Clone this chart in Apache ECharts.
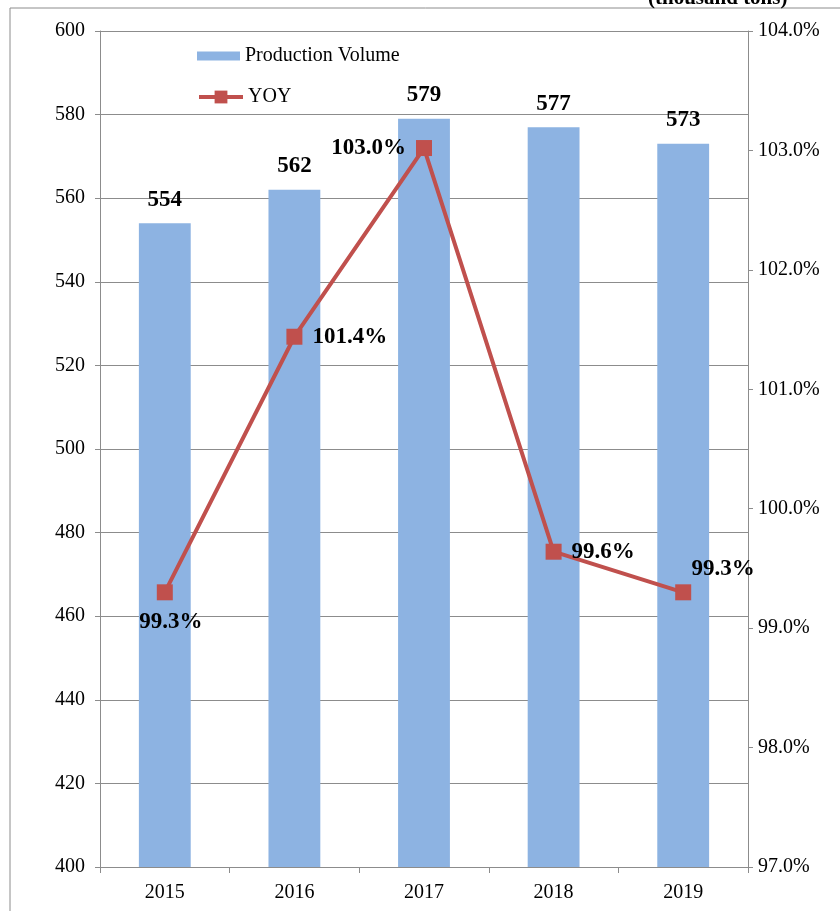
<!DOCTYPE html>
<html>
<head>
<meta charset="utf-8">
<title>Production Volume</title>
<script src="https://cdn.jsdelivr.net/npm/echarts@6/dist/echarts.min.js"></script>
<style>
    html, body { margin: 0; padding: 0; background: #fff; }
    #chart { width: 840px; height: 911px; }
</style>
</head>
<body>
<div id="chart"></div>
<script>
    // 数据
    var years = ['2015', '2016', '2017', '2018', '2019']
    var volume = [554, 562, 579, 577, 573]        // thousand tons
    var yoy = [99.3, 101.44, 103.02, 99.64, 99.3]  // %
    var yoyLabelPos = ['bottom', 'right', 'left', 'right', 'top']

    var serif = '"Liberation Serif", "Times New Roman", serif'

    var chart = echarts.init(document.getElementById('chart'))
    chart.setOption({
        animation: false,
        textStyle: { fontFamily: serif },
        graphic: [
            {
                type: 'rect',
                shape: { x: 10, y: 8, width: 900, height: 1000 },
                style: { fill: 'none', stroke: '#8c8c8c', lineWidth: 1 },
                silent: true
            },
            {
                type: 'text',
                x: 648, y: -12,
                style: { text: '(thousand tons)', font: 'bold 21px ' + serif, fill: '#000' }
            }
        ],
        // 两个图例，方便分别设置图标大小
        legend: [
            {
                left: 192, top: 41,
                itemWidth: 43, itemHeight: 9,
                textStyle: { fontFamily: serif, fontSize: 20, color: '#000' },
                data: [{ name: 'Production Volume', icon: 'rect' }]
            },
            {
                left: 192, top: 82,
                itemWidth: 44, itemHeight: 16,
                lineStyle: { width: 4 },
                textStyle: { fontFamily: serif, fontSize: 20, color: '#000' },
                data: [{ name: 'YOY' }]
            }
        ],
        grid: { left: 100, right: 92, top: 31, bottom: 44, containLabel: false },
        xAxis: {
            type: 'category',
            data: years,
            axisLine: { lineStyle: { color: '#8c8c8c' } },
            axisTick: { show: true, length: 6, lineStyle: { color: '#8c8c8c' } },
            axisLabel: { fontFamily: serif, fontSize: 20, color: '#000', margin: 16 }
        },
        yAxis: [
            {
                type: 'value',
                min: 400, max: 600, interval: 20,
                axisLine: { show: true, lineStyle: { color: '#8c8c8c' } },
                axisTick: { show: true, length: 5, lineStyle: { color: '#8c8c8c' } },
                axisLabel: { fontFamily: serif, fontSize: 20, color: '#000', margin: 15 },
                splitLine: { lineStyle: { color: '#8c8c8c' } }
            },
            {
                type: 'value',
                min: 97, max: 104, interval: 1,
                axisLine: { show: true, lineStyle: { color: '#8c8c8c' } },
                axisTick: { show: true, length: 5, lineStyle: { color: '#8c8c8c' } },
                axisLabel: {
                    fontFamily: serif, fontSize: 20, color: '#000', margin: 10,
                    formatter: function (v) { return v.toFixed(1) + '%' }
                },
                splitLine: { show: false }
            }
        ],
        series: [
            {
                name: 'Production Volume',
                type: 'bar',
                data: volume,
                barWidth: '40%',
                itemStyle: { color: '#8DB3E2' },
                label: {
                    show: true, position: 'top', distance: 12,
                    fontFamily: serif, fontSize: 23, fontWeight: 'bold', color: '#000'
                }
            },
            {
                name: 'YOY',
                type: 'line',
                yAxisIndex: 1,
                data: yoy.map(function (v, i) {
                    var lbl = { position: yoyLabelPos[i] }
                    if (i === 4) lbl.offset = [40, 6]
                    if (i === 0) lbl.offset = [6, 0]
                    return { value: v, label: lbl }
                }),
                symbol: 'rect',
                symbolSize: 16,
                lineStyle: { color: '#C0504D', width: 4 },
                itemStyle: { color: '#C0504D' },
                label: {
                    show: true, distance: 10,
                    fontFamily: serif, fontSize: 23, fontWeight: 'bold', color: '#000',
                    formatter: function (p) { return p.value.toFixed(1) + '%' }
                }
            }
        ]
    })
</script>
</body>
</html>
